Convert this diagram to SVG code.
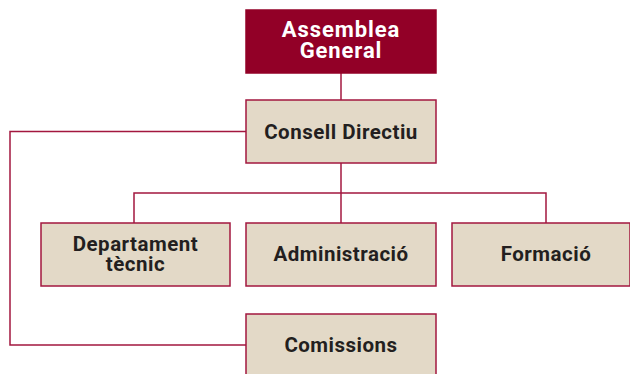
<svg xmlns="http://www.w3.org/2000/svg" width="630" height="374" viewBox="0 0 630 374">
<style>
.box{fill:#e3d9c7;stroke:#a3173f;stroke-width:1.5}
.top{fill:#920027;stroke:#920027;stroke-width:1.5}
.lbl{font-family:Roboto,"Liberation Sans",sans-serif;font-weight:bold;font-size:20.5px;letter-spacing:0.5px;fill:#231f20;text-anchor:middle}
.wl{fill:#ffffff;font-size:22px;letter-spacing:0.9px}
.conn{fill:none;stroke:#a3173f;stroke-width:1.5}
</style>
<rect width="630" height="374" fill="#ffffff"/>
<g id="connectors">
<path class="conn" d="M341 73V100"/>
<path class="conn" d="M341 163V223"/>
<path class="conn" d="M134 223V193H546V223"/>
<path class="conn" d="M246 131.5H10V345H246"/>
</g>
<g id="assemblea">
<rect class="top" x="246" y="10" width="190" height="63"/>
<text class="lbl wl" x="341" y="37">Assemblea</text>
<text class="lbl wl" x="341" y="58">General</text>
</g>
<g id="consell">
<rect class="box" x="246" y="100" width="190" height="63"/>
<text class="lbl" x="341" y="139">Consell Directiu</text>
</g>
<g id="departament">
<rect class="box" x="41" y="223" width="189" height="63"/>
<text class="lbl" x="135.5" y="251">Departament</text>
<text class="lbl" x="135.5" y="271">tècnic</text>
</g>
<g id="administracio">
<rect class="box" x="246" y="223" width="190" height="63"/>
<text class="lbl" x="341" y="261">Administració</text>
</g>
<g id="formacio">
<rect class="box" x="452" y="223" width="178" height="63"/>
<text class="lbl" x="546" y="261">Formació</text>
</g>
<g id="comissions">
<rect class="box" x="246" y="314" width="190" height="70"/>
<text class="lbl" x="341" y="352">Comissions</text>
</g>
</svg>
